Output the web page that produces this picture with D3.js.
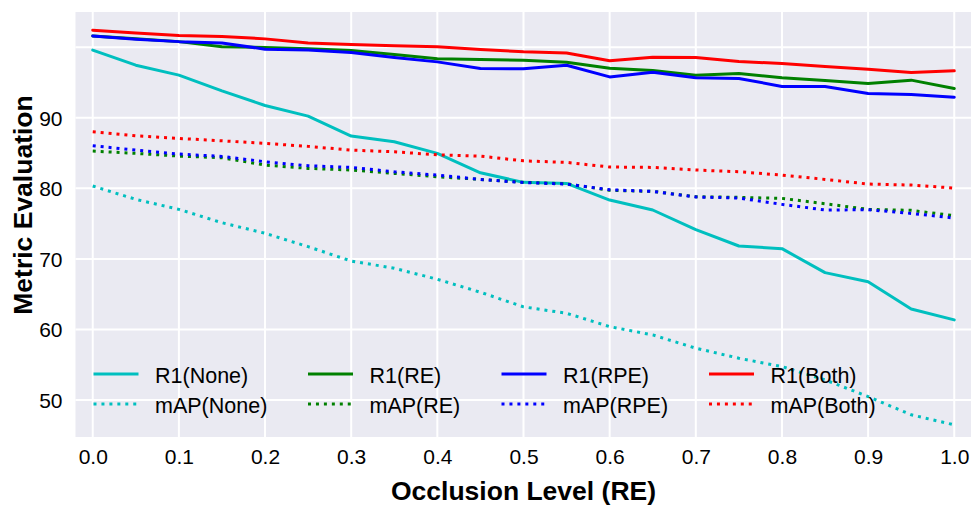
<!DOCTYPE html>
<html>
<head>
<meta charset="utf-8">
<script src="https://cdn.jsdelivr.net/npm/d3@7/dist/d3.min.js"></script>
<style>
  html, body { margin: 0; padding: 0; background: #fff; }
  svg { display: block; font-family: "Liberation Sans", Arial, sans-serif; }
</style>
</head>
<body>
<svg id="chart" width="971" height="505"></svg>
<script>
// ---- data ----
const occlusion = [0.0, 0.05, 0.1, 0.15, 0.2, 0.25, 0.3, 0.35, 0.4, 0.45, 0.5,
                   0.55, 0.6, 0.65, 0.7, 0.75, 0.8, 0.85, 0.9, 0.95, 1.0];
const r1None  = [99.6, 97.46, 96.05, 93.82, 91.75, 90.24, 87.41, 86.6, 84.96, 82.2, 80.85,
                 80.7, 78.34, 76.93, 74.15, 71.83, 71.45, 68.05, 66.77, 62.9, 61.35];
const mapNone = [80.33, 78.44, 77.02, 75.13, 73.63, 71.73, 69.7, 68.67, 67.11, 65.27, 63.2,
                 62.29, 60.4, 59.22, 57.34, 55.92, 54.73, 52.85, 50.48, 47.9, 46.47];
const r1RE    = [101.6, 101.2, 100.8, 100.06, 99.97, 99.78, 99.54, 98.98, 98.36, 98.27, 98.17,
                 97.89, 97.04, 96.7, 96.05, 96.29, 95.67, 95.29, 94.87, 95.34, 94.16];
const mapRE   = [85.28, 84.96, 84.57, 84.34, 83.3, 82.83, 82.6, 82.12, 81.65, 81.27, 80.85,
                 80.65, 79.72, 79.57, 78.81, 78.72, 78.58, 77.82, 77.02, 76.88, 76.12];
const r1RPE   = [101.6, 101.15, 100.8, 100.6, 99.73, 99.63, 99.26, 98.55, 97.93, 97.0, 96.94,
                 97.46, 95.8, 96.47, 95.67, 95.58, 94.45, 94.45, 93.46, 93.3, 92.93];
const mapRPE  = [86.04, 85.42, 84.86, 84.53, 83.77, 83.2, 82.97, 82.35, 81.88, 81.27, 80.82,
                 80.61, 79.8, 79.57, 78.77, 78.63, 77.73, 76.93, 76.97, 76.45, 75.79];
const r1Both  = [102.42, 102.04, 101.67, 101.53, 101.19, 100.6, 100.4, 100.2, 100.06, 99.7, 99.35,
                 99.2, 98.1, 98.6, 98.55, 97.98, 97.7, 97.28, 96.9, 96.43, 96.66];
const mapBoth = [88.02, 87.45, 87.08, 86.74, 86.37, 85.95, 85.42, 85.18, 84.76, 84.57, 83.9,
                 83.68, 83.02, 82.97, 82.6, 82.35, 81.88, 81.27, 80.61, 80.47, 80.04];

const xTicks = [0.0, 0.1, 0.2, 0.3, 0.4, 0.5, 0.6, 0.7, 0.8, 0.9, 1.0];
const yGrid  = [50, 60, 70, 80, 90, 100];
const yTickLabels = [50, 60, 70, 80, 90];

const seriesNames  = ["R1(None)", "mAP(None)", "R1(RE)", "mAP(RE)", "R1(RPE)", "mAP(RPE)", "R1(Both)", "mAP(Both)"];
const seriesValues = [r1None, mapNone, r1RE, mapRE, r1RPE, mapRPE, r1Both, mapBoth];
const seriesColors = ["#00BFBF", "#00BFBF", "#008000", "#008000", "#0000FF", "#0000FF", "#FF0000", "#FF0000"];
const seriesDotted = [false, true, false, true, false, true, false, true];

// ---- layout ----
const svg = d3.select("#chart");
const plot = { left: 75.5, right: 971.5, top: 12, bottom: 437 };

const x = d3.scaleLinear().domain([-0.02, 1.02]).range([plot.left, plot.right]);
const y = d3.scaleLinear().domain([44.75, 105]).range([plot.bottom, plot.top]);

svg.append("rect")
  .attr("x", plot.left).attr("y", plot.top)
  .attr("width", plot.right - plot.left).attr("height", plot.bottom - plot.top)
  .attr("fill", "#EAEAF2");

// grid
const grid = svg.append("g");
grid.selectAll(".vg").data(xTicks).enter().append("line")
  .attr("x1", d => x(d)).attr("x2", d => x(d))
  .attr("y1", plot.top).attr("y2", plot.bottom)
  .attr("stroke", "#fff").attr("stroke-width", 2);
grid.selectAll(".hg").data(yGrid).enter().append("line")
  .attr("x1", plot.left).attr("x2", plot.right)
  .attr("y1", d => y(d)).attr("y2", d => y(d))
  .attr("stroke", "#fff").attr("stroke-width", 2);

// axes (tick labels only, seaborn darkgrid style)
const xAxis = d3.axisBottom(x).tickValues(xTicks).tickFormat(d3.format(".1f")).tickSize(0).tickPadding(0);
const gx = svg.append("g").attr("transform", `translate(0,${plot.bottom})`).call(xAxis);
gx.select(".domain").remove();
gx.selectAll("text").attr("font-size", 21).attr("fill", "#000")
  .attr("dy", null).attr("y", 27).attr("font-family", "'Liberation Sans', Arial, sans-serif");

const yAxis = d3.axisLeft(y).tickValues(yTickLabels).tickFormat(d3.format("d")).tickSize(0).tickPadding(0);
const gy = svg.append("g").attr("transform", `translate(${plot.left},0)`).call(yAxis);
gy.select(".domain").remove();
gy.selectAll("text").attr("font-size", 21).attr("fill", "#000")
  .attr("x", -13).attr("dy", "0.36em").attr("font-family", "'Liberation Sans', Arial, sans-serif");

// lines
const line = d3.line().x((d, i) => x(occlusion[i])).y(d => y(d));
const linesG = svg.append("g");
seriesValues.forEach((vals, k) => {
  linesG.append("path")
    .datum(vals)
    .attr("d", line)
    .attr("fill", "none")
    .attr("stroke", seriesColors[k])
    .attr("stroke-width", 3)
    .attr("stroke-linejoin", "round")
    .attr("stroke-linecap", seriesDotted[k] ? "butt" : "round")
    .attr("stroke-dasharray", seriesDotted[k] ? "3,4.95" : null);
});

// legend (4 columns, filled column-wise)
const colX = [93.5, 308, 501.5, 709];
const rowY = [374, 404];
const legend = svg.append("g");
seriesNames.forEach((name, k) => {
  const c = Math.floor(k / 2), r = k % 2;
  legend.append("line")
    .attr("x1", colX[c]).attr("x2", colX[c] + 45)
    .attr("y1", rowY[r]).attr("y2", rowY[r])
    .attr("stroke", seriesColors[k]).attr("stroke-width", 3)
    .attr("stroke-dasharray", seriesDotted[k] ? "3,4.95" : null);
  legend.append("text")
    .attr("x", colX[c] + 61.5).attr("y", rowY[r] + 8.5)
    .attr("font-size", 21.5).attr("fill", "#000")
    .text(name);
});

// axis titles
svg.append("text")
  .attr("x", 523.5).attr("y", 500)
  .attr("text-anchor", "middle").attr("font-weight", "bold").attr("font-size", 26.5)
  .attr("fill", "#000")
  .text("Occlusion Level (RE)");
svg.append("text")
  .attr("transform", "translate(32,205) rotate(-90)")
  .attr("text-anchor", "middle").attr("font-weight", "bold").attr("font-size", 26.5)
  .attr("fill", "#000")
  .text("Metric Evaluation");
</script>
</body>
</html>
